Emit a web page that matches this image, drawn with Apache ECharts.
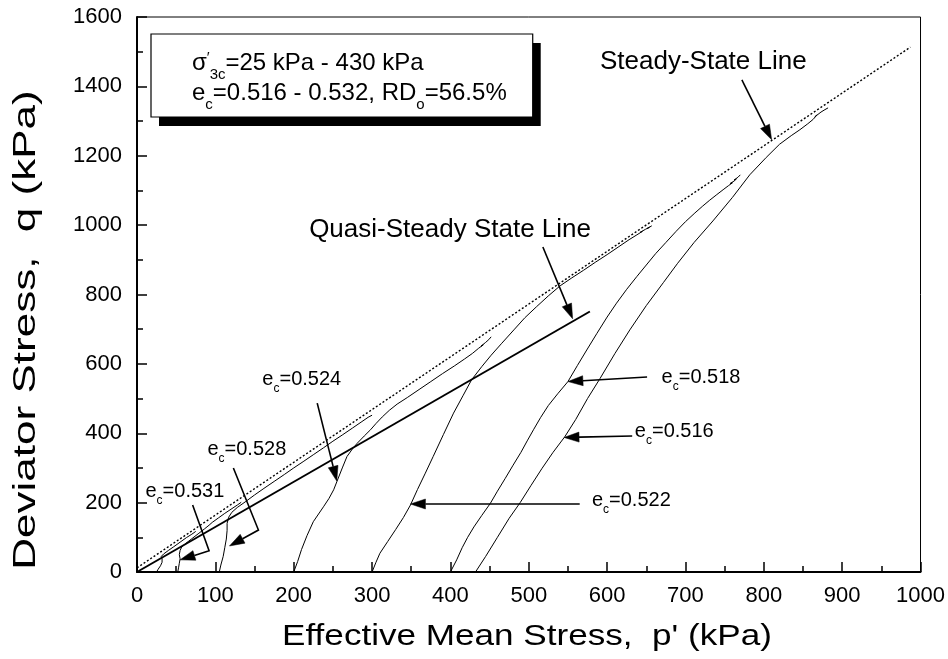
<!DOCTYPE html>
<html>
<head>
<meta charset="utf-8">
<script src="https://cdn.jsdelivr.net/npm/echarts@6/dist/echarts.min.js"></script>
<style>
html, body { margin: 0; padding: 0; background: #fff; }
#chart { width: 948px; height: 659px; }
</style>
</head>
<body>
<div id="chart"></div>
<script>
// ---- axes ----
const xTicks = [0, 100, 200, 300, 400, 500, 600, 700, 800, 900, 1000];
const yTicks = [0, 200, 400, 600, 800, 1000, 1200, 1400, 1600];

// ---- reference lines (p', q in kPa) ----
const steadyStateLine = [[0, 12], [987, 1513]];
const quasiSteadyLine = [[0, 0], [578, 751]];

// ---- undrained stress paths (p', q in kPa) ----
const path0532 = [[25, 0], [27, 8], [30, 18], [32, 28], [32, 38], [31, 45], [34, 52], [40, 62], [47, 73], [55, 86], [63, 99], [70, 109], [75, 117]];
const path0531 = [[52, 0], [53, 12], [54, 25], [55, 38], [54, 50], [55, 62], [57, 72], [62, 82], [70, 96], [78, 110], [86, 124], [92, 135], [90, 133], [96, 143], [104, 156], [112, 169], [120, 181], [128, 193], [133, 201]];
const path0528 = [[105, 0], [107, 20], [110, 45], [112, 70], [114, 95], [115, 120], [115, 140], [117, 158], [121, 172], [128, 186], [138, 202], [150, 222], [162, 241], [175, 261], [188, 281], [200, 300], [212, 318], [225, 338], [238, 358], [250, 377], [262, 395], [275, 415], [286, 432], [295, 446], [300, 452]];
const path0524 = [[200, 0], [205, 30], [210, 65], [217, 105], [225, 145], [238, 188], [245, 212], [251, 237], [255, 260], [262, 300], [268, 333], [275, 355], [281, 371], [290, 392], [298, 410], [305, 428], [313, 447], [322, 466], [332, 484], [345, 503], [360, 526], [375, 549], [390, 572], [405, 594], [418, 614], [428, 630], [436, 645], [442, 655], [439, 651], [445, 662], [449, 670], [447, 667], [452, 678]];
const path0522 = [[300, 0], [305, 28], [310, 54], [320, 88], [330, 122], [340, 157], [349, 193], [358, 238], [368, 285], [378, 333], [391, 396], [404, 458], [416, 508], [427, 554], [440, 592], [452, 625], [465, 658], [481, 698], [495, 733], [510, 765], [525, 796], [540, 825], [555, 848], [570, 870], [585, 893], [600, 915], [615, 938], [628, 958], [638, 972], [645, 982], [642, 979], [649, 988], [654, 994], [651, 990], [657, 998]];
const path0518 = [[400, 0], [408, 35], [415, 70], [422, 100], [430, 130], [440, 163], [451, 198], [460, 233], [470, 270], [480, 308], [490, 345], [498, 378], [506, 410], [515, 445], [525, 480], [537, 514], [550, 549], [562, 595], [574, 640], [587, 688], [600, 735], [612, 775], [625, 815], [638, 852], [650, 885], [662, 918], [675, 950], [688, 982], [700, 1010], [712, 1035], [722, 1055], [731, 1072], [740, 1088], [748, 1102], [755, 1114], [760, 1122], [757, 1120], [762, 1127], [765, 1133], [762, 1130], [767, 1138], [770, 1145]];
const path0516 = [[432, 0], [445, 45], [460, 100], [475, 155], [489, 200], [503, 250], [517, 299], [531, 345], [546, 390], [560, 440], [575, 500], [591, 558], [610, 630], [629, 698], [650, 768], [672, 835], [690, 890], [711, 950], [735, 1012], [760, 1080], [782, 1145], [803, 1195], [820, 1233], [835, 1258], [846, 1275], [856, 1292], [863, 1305], [868, 1318], [865, 1312], [873, 1326], [878, 1333], [882, 1338]];

const stressPaths = [path0532, path0531, path0528, path0524, path0522, path0518, path0516];

// ---- leader arrows (tail ... head), p', q in kPa ----
const arrowSteady = [[772, 1419], [810, 1246]];
const arrowQuasi = [[518, 937], [556, 730]];
const arrow0524 = [[230, 487], [255, 262]];
const arrow0528 = [[123, 300], [155, 121], [118, 75]];
const arrow0531 = [[71, 193], [92, 61], [55, 35]];
const arrow0518 = [[651, 562], [550, 549]];
const arrow0516 = [[632, 392], [545, 388]];
const arrow0522 = [[565, 196], [349, 196]];
const arrows = [arrowSteady, arrowQuasi, arrow0524, arrow0528, arrow0531, arrow0518, arrow0516, arrow0522];

// ---- void ratio labels ----
const voidRatios = ['0.531', '0.528', '0.524', '0.522', '0.518', '0.516'];

const FONT = '"Liberation Sans", Arial, Helvetica, sans-serif';
const BLACK = '#000';

const chart = echarts.init(document.getElementById('chart'), null, { renderer: 'canvas' });

function pathSeries(data) {
  return {
    type: 'line', data: data, showSymbol: false, symbol: 'none', silent: true,
    lineStyle: { color: BLACK, width: 1 }, z: 3, animation: false
  };
}

function renderArrow(params, api) {
  const pts = arrows[params.dataIndex].map(function (p) { return api.coord(p); });
  const n = pts.length;
  const a = pts[n - 2], b = pts[n - 1];
  const ang = Math.atan2(b[1] - a[1], b[0] - a[0]);
  const L = 15, W = 5;
  const bx = b[0] - L * Math.cos(ang), by = b[1] - L * Math.sin(ang);
  const head = [b,
    [bx + W * Math.sin(ang), by - W * Math.cos(ang)],
    [bx - W * Math.sin(ang), by + W * Math.cos(ang)]];
  const shaft = pts.slice(0, n - 1).concat([[bx, by]]);
  return {
    type: 'group',
    children: [
      { type: 'polyline', shape: { points: shaft }, style: { stroke: BLACK, lineWidth: 1.6, fill: null } },
      { type: 'polygon', shape: { points: head }, style: { fill: BLACK, stroke: BLACK, lineWidth: 0.5 } }
    ]
  };
}

const series = [
  {
    type: 'line', data: steadyStateLine, showSymbol: false, symbol: 'none', silent: true,
    lineStyle: { color: BLACK, width: 1.4, type: [2, 2] }, z: 2, animation: false
  },
  {
    type: 'line', data: quasiSteadyLine, showSymbol: false, symbol: 'none', silent: true,
    lineStyle: { color: BLACK, width: 2 }, z: 2, animation: false
  }
].concat(stressPaths.map(pathSeries)).concat([{
  type: 'custom', renderItem: renderArrow, silent: true, z: 4, animation: false,
  data: arrows.map(function (a) { return a[a.length - 1]; })
}]);

function plainNumber(v) { return String(v); }

chart.setOption({
  animation: false,
  backgroundColor: '#fff',
  grid: { left: 137, right: 27, top: 17, bottom: 87, show: true, borderColor: BLACK, borderWidth: 1, backgroundColor: 'transparent' },
  xAxis: {
    type: 'value', min: xTicks[0], max: xTicks[xTicks.length - 1], interval: xTicks[1] - xTicks[0],
    axisLine: { show: true, onZero: false, lineStyle: { color: BLACK, width: 2 } },
    axisTick: { show: true, inside: true, length: 10, lineStyle: { color: BLACK, width: 1.5 } },
    minorTick: { show: true, splitNumber: 2, length: 6, lineStyle: { color: BLACK, width: 1.5 } },
    splitLine: { show: false },
    axisLabel: { color: BLACK, fontSize: 22, fontFamily: FONT, margin: 13, showMaxLabel: true, hideOverlap: false, formatter: plainNumber }
  },
  yAxis: {
    type: 'value', min: yTicks[0], max: yTicks[yTicks.length - 1], interval: yTicks[1] - yTicks[0],
    axisLine: { show: true, onZero: false, lineStyle: { color: BLACK, width: 2 } },
    axisTick: { show: true, inside: true, length: 10, lineStyle: { color: BLACK, width: 1.5 } },
    minorTick: { show: true, splitNumber: 2, length: 6, lineStyle: { color: BLACK, width: 1.5 } },
    splitLine: { show: false },
    axisLabel: { color: BLACK, fontSize: 22, fontFamily: FONT, margin: 15, showMaxLabel: true, hideOverlap: false, formatter: plainNumber }
  },
  series: series
});

// ---- text helpers: runs of normal / subscript / superscript pieces ----
const measureCtx = document.createElement('canvas').getContext('2d');
function textWidth(str, size) {
  measureCtx.font = size + 'px ' + FONT;
  return measureCtx.measureText(str).width;
}
function runWidth(segs, size) {
  const small = Math.round(size * 0.62);
  return segs.reduce(function (w, s) { return w + textWidth(s[0], s[1] === 'n' ? size : small); }, 0);
}
function textRun(x, baseline, segs, size, align) {
  const small = Math.round(size * 0.62);
  let cx = align === 'right' ? x - runWidth(segs, size) : x;
  return segs.map(function (s) {
    const fs = s[1] === 'n' ? size : small;
    let b = baseline;
    if (s[1] === 'sub') b += size * 0.32;
    if (s[1] === 'sup') b -= size * 0.36;
    const el = {
      type: 'text', x: cx, y: b - 0.3465 * fs, silent: true,
      style: { text: s[0], fontSize: fs, fontFamily: FONT, fill: BLACK, align: 'left', verticalAlign: 'middle' }
    };
    cx += textWidth(s[0], fs);
    return el;
  });
}
function px(p) { return chart.convertToPixel({ gridIndex: 0 }, p); }

// label anchors: [p', q] of the text baseline start (or end for right-aligned)
const labelAnchors = [[10.8, 213], [89.9, 332], [160, 534], [580.6, 185], [669.5, 542], [635.4, 384]];
const graphics = [];

voidRatios.forEach(function (v, i) {
  const at = px(labelAnchors[i]);
  Array.prototype.push.apply(graphics, textRun(at[0], at[1], [['e', 'n'], ['c', 'sub'], ['=' + v, 'n']], 20));
});

const ssAt = px([854.7, 1444]);
Array.prototype.push.apply(graphics, textRun(ssAt[0], ssAt[1], [['Steady-State Line', 'n']], 26, 'right'));
const qsAt = px([579.4, 959.6]);
Array.prototype.push.apply(graphics, textRun(qsAt[0], qsAt[1], [['Quasi-Steady State Line', 'n']], 26, 'right'));

// ---- test-condition box with drop shadow ----
const boxLine1 = [['\u03c3', 'n'], ['\u2032', 'sup'], ['3c', 'sub'], ['=25 kPa - 430 kPa', 'n']];
const boxLine2 = [['e', 'n'], ['c', 'sub'], ['=0.516 - 0.532, RD', 'n'], ['o', 'sub'], ['=56.5%', 'n']];
const boxFont = 24;
const boxLeft = 151, boxTop = 34, textLeft = 192;
const boxW = textLeft - boxLeft + Math.max(runWidth(boxLine1, boxFont), runWidth(boxLine2, boxFont)) + 26;
const boxH = 83;
graphics.push({ type: 'rect', shape: { x: boxLeft + 8, y: boxTop + 9, width: boxW, height: boxH }, style: { fill: BLACK }, z: 10 });
graphics.push({ type: 'rect', shape: { x: boxLeft, y: boxTop, width: boxW, height: boxH }, style: { fill: '#fff', stroke: BLACK, lineWidth: 1.2 }, z: 11 });
textRun(textLeft, 72, boxLine1, boxFont).concat(textRun(textLeft, 102, boxLine2, boxFont)).forEach(function (el) {
  el.z = 12; graphics.push(el);
});

// ---- axis titles (set with wide tracking) ----
graphics.push({
  type: 'text', x: 527, y: 637, scaleX: 1.17, silent: true,
  style: { text: 'Effective Mean Stress,  p\' (kPa)', fontSize: 30, fontFamily: FONT, fill: BLACK, align: 'center', verticalAlign: 'middle' }
});
graphics.push({
  type: 'text', x: 26, y: 330, rotation: Math.PI / 2, scaleX: 1.42, silent: true,
  style: { text: 'Deviator Stress,  q (kPa)', fontSize: 31, fontFamily: FONT, fill: BLACK, align: 'center', verticalAlign: 'middle' }
});

chart.setOption({ graphic: { elements: graphics } });
</script>
</body>
</html>
